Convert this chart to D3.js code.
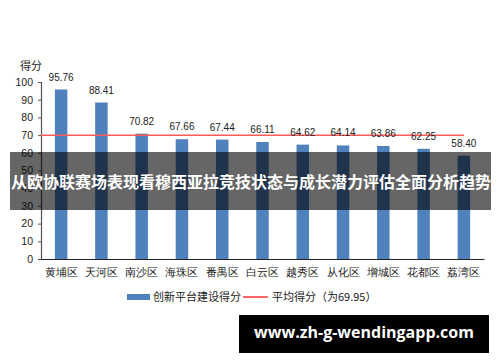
<!DOCTYPE html>
<html>
<head>
<meta charset="utf-8">
<script src="https://cdn.jsdelivr.net/npm/d3@7"></script>
<style>
  body { margin: 0; background: #fff; }
  svg { display: block; font-family: "Noto Sans CJK SC", "Liberation Sans", sans-serif; }
</style>
</head>
<body>
<svg width="500" height="362"></svg>
<script>
// chart data
const districts = ["黄埔区", "天河区", "南沙区", "海珠区", "番禺区", "白云区",
                   "越秀区", "从化区", "增城区", "花都区", "荔湾区"];
const scores    = [95.76, 88.41, 70.82, 67.66, 67.44, 66.11, 64.62, 64.14, 63.86, 62.25, 58.40];
const average   = 69.95;
const yTicks    = [0, 10, 20, 30, 40, 50, 60, 70, 80, 90, 100];
const yTitle    = "得分";
const legendBar = "创新平台建设得分";
const legendAvg = "平均得分（为69.95）";
const overlayTitle = "从欧协联赛场表现看穆西亚拉竞技状态与成长潜力评估全面分析趋势";
const watermark = "www.zh-g-wendingapp.com";

const svg = d3.select("svg");
const plotLeft = 41, plotRight = 484, plotTop = 82, plotBottom = 259;

const x = d3.scaleBand()
  .domain(districts)
  .range([plotLeft, plotRight])
  .paddingInner(0.69)
  .paddingOuter(0.345);

const y = d3.scaleLinear()
  .domain([0, 100])
  .range([plotBottom, plotTop]);

// y axis
const yAxis = svg.append("g")
  .attr("transform", `translate(${plotLeft},0)`)
  .call(d3.axisLeft(y).tickValues(yTicks).tickSize(3).tickPadding(5));
yAxis.select(".domain").attr("stroke", "#555").attr("stroke-width", 1.2);
yAxis.selectAll(".tick line").attr("stroke", "#555");
yAxis.selectAll(".tick text")
  .attr("font-size", 10.5)
  .attr("fill", "#222")
  .attr("font-family", "Liberation Sans, sans-serif");

svg.append("text")
  .attr("x", 20).attr("y", 70)
  .attr("font-size", 11).attr("fill", "#222")
  .text(yTitle);

// bars
svg.append("g").selectAll("rect")
  .data(scores)
  .join("rect")
    .attr("x", (d, i) => x(districts[i]))
    .attr("y", d => y(d))
    .attr("width", x.bandwidth())
    .attr("height", d => y(0) - y(d))
    .attr("fill", "#4f81bd");

// x axis
const xAxis = svg.append("g")
  .attr("transform", `translate(0,${plotBottom})`)
  .call(d3.axisBottom(x).tickSize(0).tickPadding(9));
xAxis.select(".domain").attr("stroke", "#222").attr("stroke-width", 1.2);
xAxis.selectAll(".tick text").attr("font-size", 11).attr("fill", "#222");

// average line
svg.append("line")
  .attr("x1", plotLeft)
  .attr("x2", x(districts[districts.length - 1]) + x.bandwidth() / 2)
  .attr("y1", y(average)).attr("y2", y(average))
  .attr("stroke", "#ff5a5a").attr("stroke-width", 1.5);

// value labels
svg.append("g").selectAll("text")
  .data(scores)
  .join("text")
    .attr("x", (d, i) => x(districts[i]) + x.bandwidth() / 2)
    .attr("y", d => y(d) - 9)
    .attr("text-anchor", "middle")
    .attr("font-size", 10)
    .attr("font-family", "Liberation Sans, sans-serif")
    .attr("fill", "#222")
    .text(d => d.toFixed(2));

// legend
const legend = svg.append("g").attr("transform", "translate(0,297)");
legend.append("rect")
  .attr("x", 127).attr("y", -3).attr("width", 23).attr("height", 6)
  .attr("fill", "#4f81bd");
legend.append("text")
  .attr("x", 153).attr("dy", "0.35em")
  .attr("font-size", 11).attr("fill", "#222")
  .text(legendBar);
legend.append("line")
  .attr("x1", 243).attr("x2", 268)
  .attr("stroke", "red").attr("stroke-width", 1.2);
legend.append("text")
  .attr("x", 272).attr("dy", "0.35em")
  .attr("font-size", 11).attr("fill", "#222")
  .text(legendAvg);

// dark overlay band with title
svg.append("rect")
  .attr("x", 10).attr("y", 152).attr("width", 481).attr("height", 58)
  .attr("fill", "rgba(0,0,0,0.6)");
svg.append("text")
  .attr("x", 251).attr("y", 184)
  .attr("text-anchor", "middle").attr("dominant-baseline", "middle")
  .attr("font-size", 16).attr("font-weight", "bold").attr("fill", "#fff")
  .text(overlayTitle);

// watermark
svg.append("rect")
  .attr("x", 239).attr("y", 315).attr("width", 250).attr("height", 38)
  .attr("fill", "#000");
svg.append("text")
  .attr("x", 364).attr("y", 334)
  .attr("text-anchor", "middle").attr("dominant-baseline", "middle")
  .attr("font-size", 16).attr("font-weight", "bold").attr("fill", "#fff")
  .attr("font-family", "Open Sans, sans-serif")
  .text(watermark);
</script>
</body>
</html>
